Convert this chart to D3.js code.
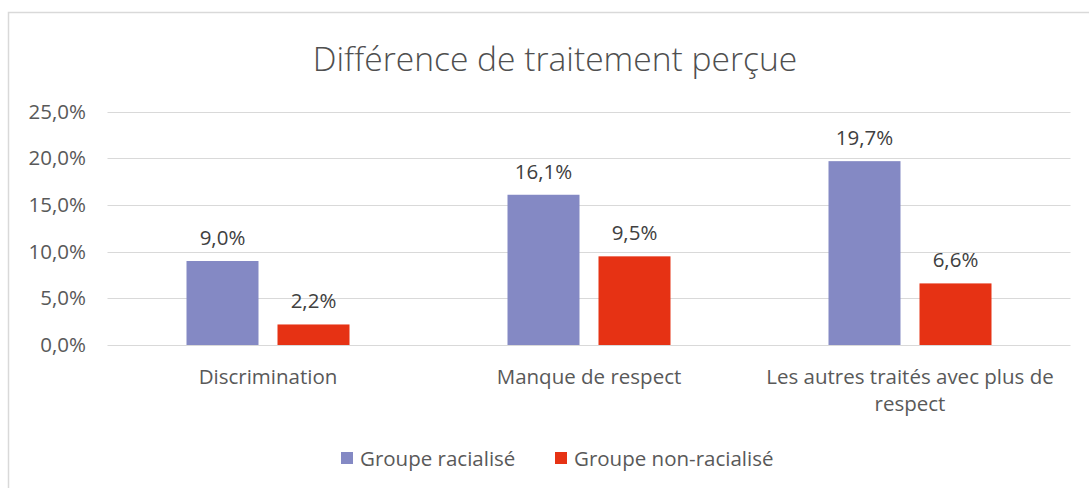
<!DOCTYPE html>
<html><head><meta charset="utf-8">
<script src="https://cdn.jsdelivr.net/npm/d3@7"></script>
<style>body{margin:0;background:#fff;}svg{display:block;}text{font-family:"Open Sans",sans-serif;fill:#595959;}</style>
</head><body>
<script>
const categories = ["Discrimination", "Manque de respect", "Les autres traités avec plus de respect"];
const seriesNames = ["Groupe racialisé", "Groupe non-racialisé"];
const racialise = [9.0, 16.1, 19.7];
const nonRacialise = [2.2, 9.5, 6.6];
const yTicks = [0, 5, 10, 15, 20, 25];
const title = "Différence de traitement perçue";
const colors = ["#8489c4", "#e63214"];

const W = 1089, H = 488;
const FS = "20.5px";
const svg = d3.select("body").append("svg").attr("width", W).attr("height", H);
svg.append("rect").attr("x", 8.5).attr("y", 12.5).attr("width", W + 10).attr("height", H + 10)
  .attr("fill", "#fff").attr("stroke", "#d9d9d9").attr("stroke-width", 1.5);

const x0 = d3.scaleBand().domain(categories).range([107.5, 1070.5]);
const x1 = d3.scaleBand().domain(seriesNames).range([0, 163]).paddingInner(19 / 91);
const y = d3.scaleLinear().domain([0, 25]).range([345, 111.7]);

svg.append("text").attr("x", 555).attr("y", 71).attr("text-anchor", "middle")
  .style("font-size", "33.6px").style("font-weight", 300).style("fill", "#4f4f4f").text(title);

const grid = svg.append("g");
grid.selectAll("line").data(yTicks).join("line")
  .attr("x1", 107.5).attr("x2", 1070.5).attr("y1", d => Math.round(y(d)) + 0.5).attr("y2", d => Math.round(y(d)) + 0.5)
  .attr("stroke", "#d9d9d9").attr("stroke-width", 1.2);

const fmt = v => v.toFixed(1).replace(".", ",") + "%";
const yAxis = d3.axisLeft(y).tickValues(yTicks).tickFormat(fmt).tickSize(0).tickPadding(0);
svg.append("g").attr("transform", "translate(86,0)").call(yAxis)
  .call(g => g.select(".domain").remove())
  .call(g => g.selectAll("text").style("font-size", FS).style("fill", "#595959").attr("font-family", null));

const data = categories.map((c, i) => ({cat: c, vals: [racialise[i], nonRacialise[i]]}));
const groups = svg.append("g").selectAll("g").data(data).join("g")
  .attr("transform", d => `translate(${x0(d.cat) + (x0.bandwidth() - 163) / 2},0)`);
groups.selectAll("rect").data(d => d.vals.map((v, j) => ({s: seriesNames[j], v, j}))).join("rect")
  .attr("x", d => x1(d.s)).attr("width", x1.bandwidth())
  .attr("y", d => y(d.v)).attr("height", d => y(0) - y(d.v))
  .attr("fill", d => colors[d.j]);
groups.selectAll("text").data(d => d.vals.map((v, j) => ({s: seriesNames[j], v, j}))).join("text")
  .attr("x", d => x1(d.s) + x1.bandwidth() / 2).attr("y", d => y(d.v) - 16)
  .attr("text-anchor", "middle").style("font-size", FS).style("fill", "#404040").text(d => fmt(d.v));

// category labels
const catLines = {"Les autres traités avec plus de respect": ["Les autres traités avec plus de", "respect"]};
const cl = svg.append("g").selectAll("text").data(categories).join("text")
  .attr("text-anchor", "middle").attr("x", d => x0(d) + x0.bandwidth() / 2).attr("y", 384)
  .style("font-size", FS);
cl.each(function(d) {
  const lines = catLines[d] || [d];
  d3.select(this).selectAll("tspan").data(lines).join("tspan")
    .attr("x", x0(d) + x0.bandwidth() / 2).attr("dy", (l, i) => i ? 27 : 0).text(l => l);
});

// legend
const legX = [341, 555];
const lg = svg.append("g").selectAll("g").data(seriesNames).join("g")
  .attr("transform", (d, i) => `translate(${legX[i]},452)`);
lg.append("rect").attr("width", 12).attr("height", 12).attr("fill", (d, i) => colors[i]);
lg.append("text").attr("x", 19).attr("y", 14).style("font-size", FS).text(d => d);
</script>
</body></html>
